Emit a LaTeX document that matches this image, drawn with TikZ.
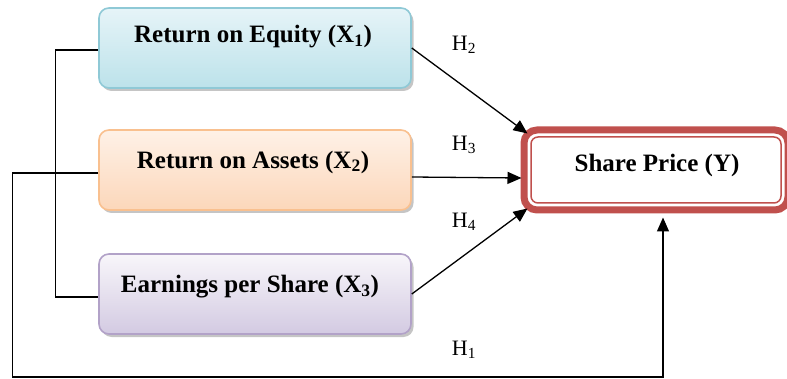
\documentclass[tikz,border=0pt]{standalone}
\usepackage{fontspec}
\setmainfont{Liberation Serif}
\usetikzlibrary{shadows,calc,arrows.meta}
\definecolor{roeTop}{HTML}{E6F4F8}
\definecolor{roeBot}{HTML}{BCE2EA}
\definecolor{roeEdge}{HTML}{8FC9D6}
\definecolor{roaTop}{HTML}{FEF1E7}
\definecolor{roaBot}{HTML}{FCD7BA}
\definecolor{roaEdge}{HTML}{F9C08F}
\definecolor{epsTop}{HTML}{F8F6FA}
\definecolor{epsBot}{HTML}{D3CAE2}
\definecolor{epsEdge}{HTML}{B2A2C8}
\definecolor{spRed}{HTML}{C0504D}
\tikzset{
  varbox/.style={rectangle, rounded corners=10pt, line width=1.6pt, minimum width=312pt, minimum height=80pt,
    drop shadow={shadow xshift=2.5pt, shadow yshift=-3pt, fill=black!45, opacity=0.5}},
  boxtext/.style={font=\fontsize{25}{29}\selectfont\bfseries, inner sep=0pt},
  hlabel/.style={font=\fontsize{22}{26}\selectfont, inner sep=0pt},
  conn/.style={line width=1.3pt, black},
  arr/.style={conn, -{Triangle[length=14pt,width=12pt]}},
}
\newcommand{\xsub}[1]{\textsubscript{#1}}
\begin{document}
\begin{tikzpicture}[x=1pt,y=-1pt]
\useasboundingbox (0,0) rectangle (787,379);
% boxes
\node[varbox, draw=roeEdge, top color=roeTop, bottom color=roeBot] (roe) at (255,48) {};
\node[varbox, draw=roaEdge, top color=roaTop, bottom color=roaBot] (roa) at (255,170) {};
\node[varbox, draw=epsEdge, top color=epsTop, bottom color=epsBot] (eps) at (255,294) {};
\node[boxtext] (roeT) at (253,37) {Return on Equity (X\xsub{1})};
\node[boxtext] (roaT) at (253,162) {Return on Assets (X\xsub{2})};
\node[boxtext] (epsT) at (250,287) {Earnings per Share (X\xsub{3})};
% share price
\node[rectangle, rounded corners=13pt, draw=spRed, line width=7pt, fill=white,
      minimum width=264pt, minimum height=80pt] (sp) at (656,170) {};
\draw[spRed, line width=1.5pt, rounded corners=7pt] ($(sp.north west)+(10.5,10.5)$) rectangle ($(sp.south east)+(-10.5,-10.5)$);
\node[boxtext] (spT) at (657,165) {Share Price (Y)};
% connectors
\draw[conn] ($(roe.west)+(0,2)$) -- ++(-43,0) |- ($(eps.west)+(0,3)$);
\draw[arr] ($(roa.west)+(0,3)$) -- ++(-86,0) -- ++(0,204) -| ($(sp.south)+(7,4)$);
\draw[arr] (roe.east) -- ($(sp.north west)+(7,7)$);
\draw[arr] ($(roa.east)+(0,7)$) -- ($(sp.west)+(1,8)$);
\draw[arr] (eps.east) -- ($(sp.south west)+(7,-5)$);
% labels
\node[hlabel] (h2) at (464,45) {H\textsubscript{2}};
\node[hlabel] (h3) at (464,145) {H\textsubscript{3}};
\node[hlabel] (h4) at (464,222) {H\textsubscript{4}};
\node[hlabel] (h1) at (464,350) {H\textsubscript{1}};
\end{tikzpicture}
\end{document}
